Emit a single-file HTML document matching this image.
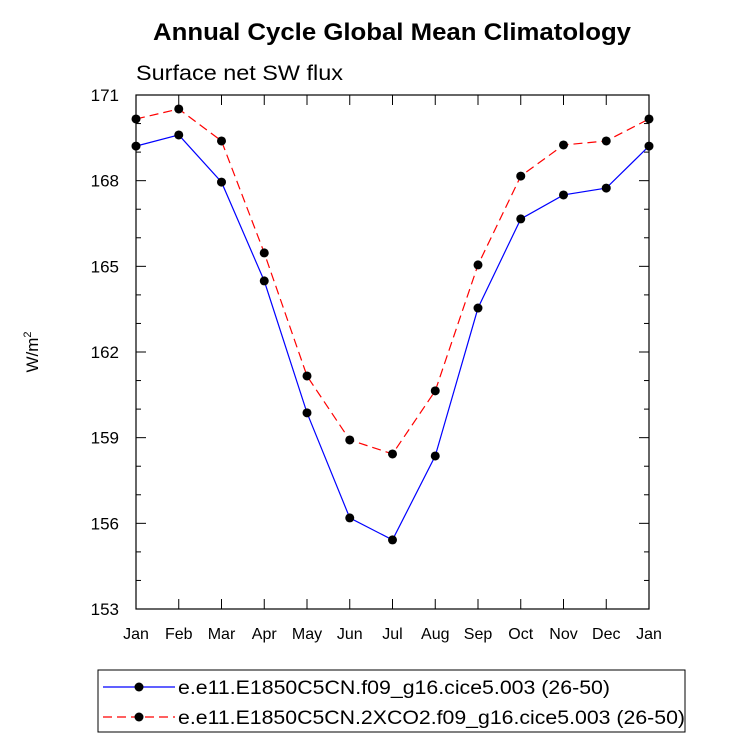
<!DOCTYPE html>
<html><head><meta charset="utf-8"><style>
body{margin:0;background:#fff;}
svg{display:block;font-family:"Liberation Sans",sans-serif;}
</style></head><body>
<svg id="chart" width="733" height="744" viewBox="0 0 733 744">
<rect width="733" height="744" fill="#fff"/>
<text x="153" y="40" font-size="24" font-weight="bold" textLength="478" lengthAdjust="spacingAndGlyphs">Annual Cycle Global Mean Climatology</text>
<text x="136" y="80" font-size="21" textLength="207" lengthAdjust="spacingAndGlyphs">Surface net SW flux</text>
<text transform="translate(38,352) rotate(-90)" font-size="17" text-anchor="middle">W/m<tspan font-size="11" dy="-7">2</tspan></text>
<g id="axes"></g>
<g id="series"></g>
<g>
<rect x="98" y="670" width="587" height="62" fill="none" stroke="#000" stroke-width="1"/>
<line x1="103" y1="687" x2="175" y2="687" stroke="#0000ff" stroke-width="1.2"/>
<circle cx="139" cy="687" r="4.5" fill="#000"/>
<text x="178" y="694" font-size="19" textLength="432" lengthAdjust="spacingAndGlyphs">e.e11.E1850C5CN.f09_g16.cice5.003 (26-50)</text>
<line x1="103" y1="717" x2="175" y2="717" stroke="#ff0000" stroke-width="1.2" stroke-dasharray="9,5"/>
<circle cx="139" cy="717" r="4.5" fill="#000"/>
<text x="178" y="724" font-size="19" textLength="507" lengthAdjust="spacingAndGlyphs">e.e11.E1850C5CN.2XCO2.f09_g16.cice5.003 (26-50)</text>
</g>
</svg>
<script>
const months=["Jan","Feb","Mar","Apr","May","Jun","Jul","Aug","Sep","Oct","Nov","Dec","Jan"];
const controlValues=[169.21,169.6,167.95,164.49,159.87,156.19,155.42,158.36,163.54,166.66,167.5,167.74,169.21];
const co2Values=[170.16,170.51,169.39,165.47,161.16,158.92,158.43,160.64,165.05,168.16,169.25,169.39,170.16];
const yTicks=[153,156,159,162,165,168,171];
const NS="http://www.w3.org/2000/svg";
const L=136,R=649,T=95,B=609,yMin=153,yMax=171;
function xS(i){return L+(R-L)*i/(months.length-1);}
function yS(v){return B-(v-yMin)/(yMax-yMin)*(B-T);}
function mk(tag,attrs,parent){const e=document.createElementNS(NS,tag);for(const k in attrs)e.setAttribute(k,attrs[k]);parent.appendChild(e);return e;}
const ax=document.getElementById('axes');
const frame=mk('rect',{x:L,y:T,width:R-L,height:B-T,fill:'none',stroke:'#000','stroke-width':1.2},ax);


for(let v=yMin;v<=yMax;v++){
  const major=yTicks.includes(v);const len=major?10:5;const y=yS(v);
  mk('line',{x1:L,y1:y,x2:L+len,y2:y,stroke:'#000'},ax);
  mk('line',{x1:R,y1:y,x2:R-len,y2:y,stroke:'#000'},ax);
}
yTicks.forEach(v=>{
  const t=mk('text',{x:L-17,y:yS(v)+6,'font-size':17,'text-anchor':'end'},ax);
  t.textContent=v;
  
  
});
months.forEach((m,i)=>{
  const x=xS(i);
  mk('line',{x1:x,y1:B,x2:x,y2:B-10,stroke:'#000'},ax);
  mk('line',{x1:x,y1:T,x2:x,y2:T+10,stroke:'#000'},ax);
  const t=mk('text',{x:x,y:B+30,'font-size':16,'text-anchor':'middle'},ax);
  t.textContent=m;
  
  
});
const sg=document.getElementById('series');
function draw(vals,color,dash,name){
  const pts=vals.map((v,i)=>xS(i)+','+yS(v)).join(' ');
  const pl=mk('polyline',{points:pts,fill:'none',stroke:color,'stroke-width':1.2,'stroke-dasharray':dash},sg);
  
  
  vals.forEach((v,i)=>{
    const c=mk('circle',{cx:xS(i),cy:yS(v),r:4.5,fill:'#000'},sg);
    
    
  });
}
draw(controlValues,'#0000ff','none','control');
draw(co2Values,'#ff0000','9,5','2xco2');
</script>
</body></html>
